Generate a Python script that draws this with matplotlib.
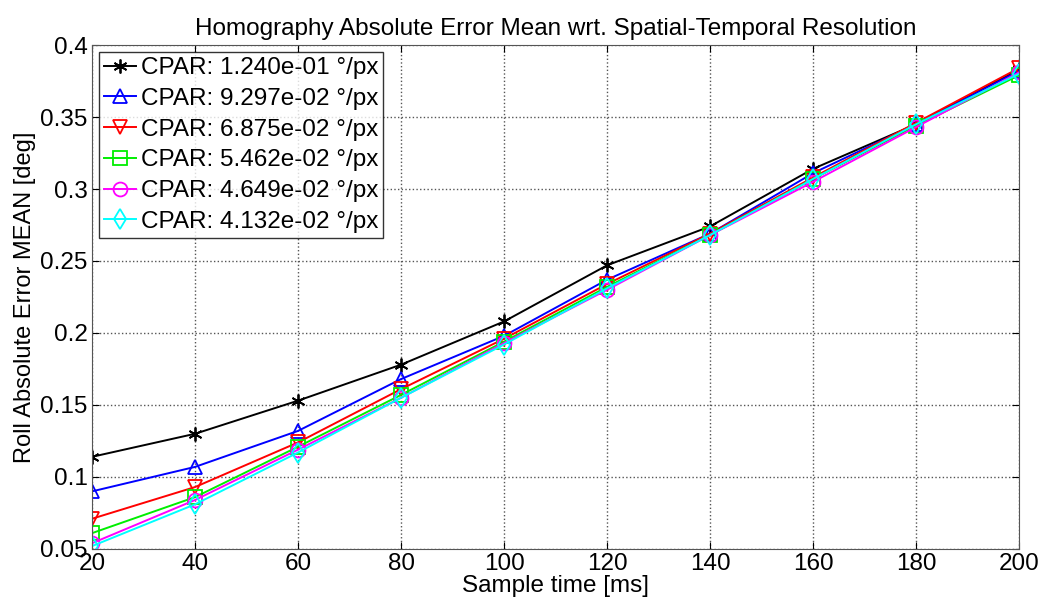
import matplotlib
matplotlib.use('Agg')
import matplotlib.pyplot as plt

plt.rcParams['font.family'] = ['Liberation Sans', 'DejaVu Sans']

# Sample time [ms]
sample_time = [20, 40, 60, 80, 100, 120, 140, 160, 180, 200]

# Roll absolute error mean [deg], one series per CPAR
err_1240 = [0.114, 0.130, 0.153, 0.178, 0.208, 0.247, 0.274, 0.314, 0.345, 0.383]
err_9297 = [0.090, 0.107, 0.132, 0.168, 0.198, 0.237, 0.269, 0.311, 0.345, 0.382]
err_6875 = [0.071, 0.093, 0.124, 0.161, 0.196, 0.234, 0.269, 0.308, 0.346, 0.384]
err_5462 = [0.061, 0.086, 0.121, 0.157, 0.194, 0.232, 0.268, 0.307, 0.344, 0.379]
err_4649 = [0.054, 0.084, 0.119, 0.155, 0.193, 0.230, 0.268, 0.305, 0.343, 0.381]
err_4132 = [0.052, 0.081, 0.117, 0.155, 0.192, 0.231, 0.268, 0.307, 0.345, 0.380]

labels = ['CPAR: 1.240e-01 °/px', 'CPAR: 9.297e-02 °/px', 'CPAR: 6.875e-02 °/px',
          'CPAR: 5.462e-02 °/px', 'CPAR: 4.649e-02 °/px', 'CPAR: 4.132e-02 °/px']
series = [err_1240, err_9297, err_6875, err_5462, err_4649, err_4132]
colors = ['black', 'blue', 'red', '#00ee00', 'magenta', 'cyan']
markers = [(6, 2, 0), '^', 'v', 's', 'o', 'd']

fig = plt.figure(figsize=(10.42, 6.05), dpi=100)
ax = fig.add_axes([0.0883, 0.0926, 0.8897, 0.833])

for vals, lab, c, m in zip(series, labels, colors, markers):
    ax.plot(sample_time, vals, color=c, marker=m, markersize=10, markerfacecolor='none',
            markeredgecolor=c, markeredgewidth=1.3, linewidth=1.4, label=lab)

ax.set_xlim(20, 200)
ax.set_ylim(0.05, 0.4)
ax.set_xticks(range(20, 201, 20))
ax.set_yticks([0.05, 0.1, 0.15, 0.2, 0.25, 0.3, 0.35, 0.4])
ax.set_yticklabels(['0.05', '0.1', '0.15', '0.2', '0.25', '0.3', '0.35', '0.4'])
ax.grid(True, linestyle=':', color='#555555', linewidth=1.0)
ax.tick_params(direction='in', top=True, right=True, labelsize=17.5, length=5, pad=3)
for s in ax.spines.values():
    s.set_color('#555555')

ax.set_xlabel('Sample time [ms]', fontsize=17.5, labelpad=0)
ax.set_ylabel('Roll Absolute Error MEAN [deg]', fontsize=17, labelpad=3)
ax.set_title('Homography Absolute Error Mean wrt. Spatial-Temporal Resolution', fontsize=17.5, pad=7)

leg = ax.legend(loc='upper left', fontsize=17.5, frameon=True, fancybox=False, handlelength=1.3,
                handletextpad=0.2, borderpad=0.2, labelspacing=0.36, borderaxespad=0.3)
leg.get_frame().set_edgecolor('black')
leg.get_frame().set_linewidth(1.0)

fig.savefig('out.png', dpi=100)
